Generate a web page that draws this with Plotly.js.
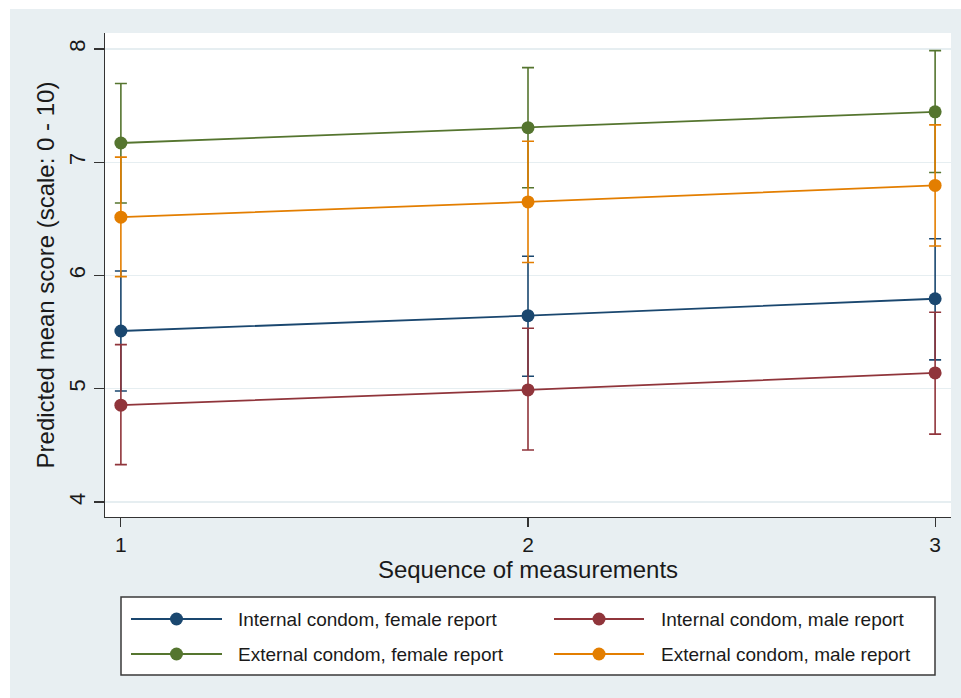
<!DOCTYPE html>
<html>
<head>
<meta charset="utf-8">
<script src="https://cdn.plot.ly/plotly-3.0.1.min.js"></script>
<style>
  html, body { margin: 0; padding: 0; background: #ffffff; }
  #chart { width: 961px; height: 698px; }
</style>
</head>
<body>
<div id="chart"></div>
<script>
// ---- data ----
const seq = [1, 2, 3];
const xTickLabels = ['1', '2', '3'];
const yTickVals = [4, 5, 6, 7, 8];

const seriesNames = [
  'Internal condom, female report',
  'Internal condom, male report',
  'External condom, female report',
  'External condom, male report'
];

const internalFemale   = [5.51, 5.645, 5.795];
const internalFemaleLo = [4.98, 5.11, 5.255];
const internalFemaleHi = [6.04, 6.17, 6.325];

const internalMale   = [4.855, 4.99, 5.14];
const internalMaleLo = [4.33, 4.46, 4.60];
const internalMaleHi = [5.39, 5.535, 5.675];

const externalFemale   = [7.17, 7.305, 7.445];
const externalFemaleLo = [6.64, 6.775, 6.91];
const externalFemaleHi = [7.695, 7.835, 7.985];

const externalMale   = [6.515, 6.65, 6.795];
const externalMaleLo = [5.99, 6.115, 6.26];
const externalMaleHi = [7.045, 7.185, 7.33];

// ---- styling ----
const colors = ['#1a476f', '#90353b', '#55752f', '#e37e00'];
const FONT = 'Liberation Sans, Arial, sans-serif';
const BG = '#e8eff2';

const means = [internalFemale, internalMale, externalFemale, externalMale];
const lows  = [internalFemaleLo, internalMaleLo, externalFemaleLo, externalMaleLo];
const highs = [internalFemaleHi, internalMaleHi, externalFemaleHi, externalMaleHi];

const traces = means.map((m, i) => ({
  type: 'scatter',
  mode: 'lines+markers',
  name: seriesNames[i],
  x: seq,
  y: m,
  line: { color: colors[i], width: 1.8 },
  marker: { color: colors[i], size: 13, symbol: 'circle' },
  error_y: {
    type: 'data',
    symmetric: false,
    array: highs[i].map((h, k) => h - m[k]),
    arrayminus: m.map((v, k) => v - lows[i][k]),
    color: colors[i],
    thickness: 1.6,
    width: 6
  },
  showlegend: false
}));

// plot-area geometry (px) for placing the legend box
const L = 105, T = 33, W = 846, H = 484;
const px = v => (v - L) / W;
const py = v => (T + H - v) / H;

const shapes = [
  // white strips outside the grey graph region
  { type: 'rect', xref: 'paper', yref: 'paper', x0: px(0), x1: px(961), y0: py(9), y1: py(0),
    fillcolor: '#ffffff', line: { width: 0 }, layer: 'below' },
  { type: 'rect', xref: 'paper', yref: 'paper', x0: px(0), x1: px(10), y0: py(698), y1: py(0),
    fillcolor: '#ffffff', line: { width: 0 }, layer: 'below' },
  // legend frame
  { type: 'rect', xref: 'paper', yref: 'paper', x0: px(121), x1: px(935), y0: py(675), y1: py(597),
    fillcolor: '#ffffff', line: { color: '#3a3a3a', width: 1.5 } }
];
const annotations = [];

const legendPos = [
  { lx0: 131, lx1: 222, tx: 236, y: 619 },
  { lx0: 554, lx1: 644, tx: 659, y: 619 },
  { lx0: 131, lx1: 222, tx: 236, y: 654 },
  { lx0: 554, lx1: 644, tx: 659, y: 654 }
];
legendPos.forEach((p, i) => {
  shapes.push({ type: 'line', xref: 'paper', yref: 'paper',
    x0: px(p.lx0), x1: px(p.lx1), y0: py(p.y), y1: py(p.y),
    line: { color: colors[i], width: 1.8 } });
  const cx = (p.lx0 + p.lx1) / 2, r = 6.5;
  shapes.push({ type: 'circle', xref: 'paper', yref: 'paper',
    x0: px(cx - r), x1: px(cx + r), y0: py(p.y + r), y1: py(p.y - r),
    fillcolor: colors[i], line: { color: colors[i], width: 0 } });
  annotations.push({ xref: 'paper', yref: 'paper', x: px(p.tx), y: py(p.y),
    xanchor: 'left', yanchor: 'middle', showarrow: false,
    text: seriesNames[i], font: { family: FONT, size: 19, color: '#1a1a1a' } });
});

const layout = {
  width: 961,
  height: 698,
  margin: { l: L, r: 961 - L - W, t: T, b: 698 - T - H, pad: 0 },
  paper_bgcolor: BG,
  plot_bgcolor: '#ffffff',
  font: { family: FONT, color: '#1a1a1a' },
  showlegend: false,
  xaxis: {
    range: [0.961, 3.039],
    tickvals: seq,
    ticktext: xTickLabels,
    ticks: 'outside',
    ticklen: 9,
    tickwidth: 1.2,
    tickcolor: '#333333',
    showline: true,
    linecolor: '#333333',
    linewidth: 1.2,
    showgrid: false,
    zeroline: false,
    tickfont: { family: FONT, size: 21, color: '#1a1a1a' },
    title: { text: 'Sequence of measurements', font: { family: FONT, size: 24, color: '#1a1a1a' }, standoff: 0 }
  },
  yaxis: {
    range: [3.868, 8.141],
    tickvals: yTickVals,
    ticktext: yTickVals.map(String),
    tickangle: -90,
    ticks: 'outside',
    ticklen: 10,
    tickwidth: 1.2,
    tickcolor: '#333333',
    showline: true,
    linecolor: '#333333',
    linewidth: 1.2,
    showgrid: true,
    gridcolor: '#e6eef1',
    gridwidth: 1.2,
    zeroline: false,
    tickfont: { family: FONT, size: 22, color: '#1a1a1a' },
    title: { text: 'Predicted mean score (scale: 0 - 10)', font: { family: FONT, size: 24, color: '#1a1a1a' }, standoff: 3 }
  },
  shapes: shapes,
  annotations: annotations
};

Plotly.newPlot('chart', traces, layout, { displayModeBar: false, staticPlot: true });
</script>
</body>
</html>
